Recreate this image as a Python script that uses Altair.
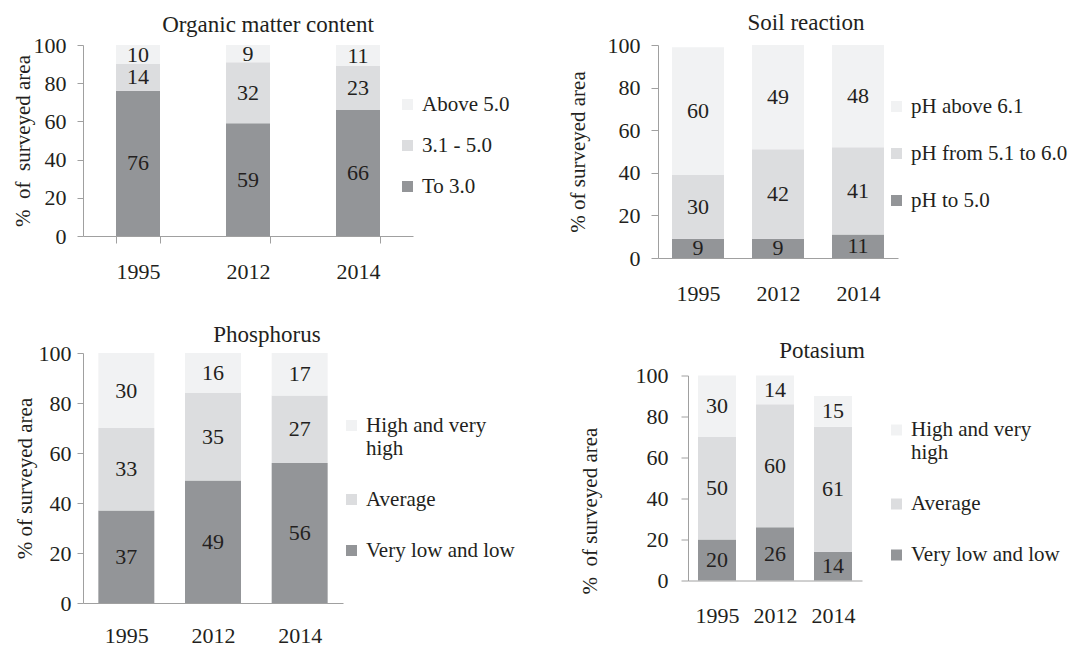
import altair as alt
import pandas as pd

years = ["1995", "2012", "2014"]

organic_cats = ["To 3.0", "3.1 - 5.0", "Above 5.0"]
organic_low = [76, 59, 66]
organic_mid = [14, 32, 23]
organic_high = [10, 9, 11]

soil_cats = ["pH to 5.0", "pH from 5.1 to 6.0", "pH above 6.1"]
soil_low = [9, 9, 11]
soil_mid = [30, 42, 41]
soil_high = [60, 49, 48]

nutrient_cats = ["Very low and low", "Average", "High and very high"]
phos_low = [37, 49, 56]
phos_mid = [33, 35, 27]
phos_high = [30, 16, 17]

potas_low = [20, 26, 14]
potas_mid = [50, 60, 61]
potas_high = [30, 14, 15]

y_ticks = [0, 20, 40, 60, 80, 100]
shades = ["#939598", "#dcdddf", "#f1f2f3"]

FONT = "Liberation Serif"
TXT = "#231f20"
AX = "#a0a0a0"
NB = "\u00a0"


def frame(cats, low, mid, high):
    rows = []
    for i, (cat, vals) in enumerate(zip(cats, [low, mid, high])):
        for yr, v in zip(years, vals):
            rows.append({"year": yr, "cat": cat, "order": i, "value": v})
    return pd.DataFrame(rows)


def panel(df, cats, title, ytitle, w, h, pad, title_dx, title_offset,
          y_lp, y_ts, y_tp, y_title_y, x_lp, x_ticks, lx, ly, lrow):
    base = alt.Chart(df).transform_stack(
        stack="value", groupby=["year"], as_=["v0", "v1"],
        sort=[alt.SortField("order", order="ascending")]
    ).transform_calculate(mid="(datum.v0 + datum.v1) / 2")

    xscale = alt.Scale(paddingInner=pad, paddingOuter=pad / 2)
    yscale = alt.Scale(domain=[0, 100], nice=False)
    xaxis = alt.Axis(labelAngle=0, labelFont=FONT, labelFontSize=22,
                     labelColor=TXT, labelPadding=x_lp,
                     domainColor=AX, domainWidth=1,
                     ticks=x_ticks, tickBand="extent",
                     tickColor=AX, tickSize=7 if x_ticks else 0,
                     grid=False)
    yaxis_kwargs = dict(values=y_ticks, grid=False, labelFont=FONT,
                        labelFontSize=22, labelColor=TXT, labelPadding=y_lp,
                        labelOverlap=False,
                        domainColor=AX, tickColor=AX, tickSize=y_ts,
                        titleFont=FONT, titleFontSize=21,
                        titleFontWeight="normal", titleColor=TXT,
                        titlePadding=y_tp)
    if y_title_y is not None:
        yaxis_kwargs["titleY"] = y_title_y
    yaxis = alt.Axis(**yaxis_kwargs)

    legend = alt.Legend(
        orient="none", legendX=lx, legendY=ly, title=None, padding=0,
        symbolType="square", symbolSize=121, symbolStrokeWidth=0,
        labelFont=FONT, labelFontSize=21, labelColor=TXT, labelOffset=4,
        rowPadding=lrow, labelLimit=400,
        labelExpr="datum.label == 'High and very high' ? ['High and very', 'high'] : datum.label",
    )
    bars = base.mark_bar().encode(
        x=alt.X("year:N", sort=years, title=None, scale=xscale, axis=xaxis),
        y=alt.Y("v0:Q", title=ytitle, scale=yscale, axis=yaxis),
        y2="v1:Q",
        color=alt.Color("cat:N",
                        scale=alt.Scale(domain=list(reversed(cats)),
                                        range=list(reversed(shades))),
                        legend=legend),
    )
    labels = base.mark_text(font=FONT, fontSize=22, color=TXT).encode(
        x=alt.X("year:N", sort=years, title=None, scale=xscale, axis=xaxis),
        y=alt.Y("mid:Q", title=ytitle, scale=yscale, axis=yaxis),
        text="value:Q",
    )
    return alt.layer(bars, labels).properties(
        width=w, height=h,
        title=alt.TitleParams(title, font=FONT, fontSize=23,
                              fontWeight="normal", color=TXT,
                              anchor="middle", frame="group",
                              dx=title_dx, offset=title_offset),
    )


p1 = panel(frame(organic_cats, organic_low, organic_mid, organic_high),
           organic_cats, "Organic matter content", "%" + NB + " of " + NB + "surveyed area",
           330, 191, 0.6, 20, -3, 11, 6, 0, None, 18, True, 314, 49, 19)
p2 = panel(frame(soil_cats, soil_low, soil_mid, soil_high),
           soil_cats, "Soil reaction", "% of surveyed area",
           240, 213, 0.35, 28, -1, 11, 7, 19, None, 25, False, 228, 51, 25)
p3 = panel(frame(nutrient_cats, phos_low, phos_mid, phos_high),
           nutrient_cats, "Phosphorus", "% of surveyed area",
           260, 250, 0.354, 54, -5, 6, 6, 3, None, 22, False, 258, 62, 29)
p4 = panel(frame(nutrient_cats, potas_low, potas_mid, potas_high),
           nutrient_cats, "Potasium", "%" + NB + " of surveyed area",
           174, 205, 0.345, 47, 1.5, 13, 7, 35, 135, 25, False, 198, 44, 29)

row0 = alt.hconcat(p1, p2, spacing=245, bounds="flush").resolve_scale(
    x="independent", y="independent", color="independent")
row1 = alt.hconcat(p3, p4, spacing=345, bounds="flush", center=True).resolve_scale(
    x="independent", y="independent", color="independent")

chart = alt.vconcat(row0, row1, spacing=20).resolve_scale(
    x="independent", y="independent", color="independent"
).properties(
    padding={"left": 4, "top": 4, "right": 0, "bottom": 0}
).configure(
    view=alt.ViewConfig(stroke=None),
    axis=alt.AxisConfig(labelFont=FONT, titleFont=FONT,
                        titleFontWeight="normal", titleFontSize=21,
                        titleColor=TXT, labelColor=TXT),
    legend=alt.LegendConfig(labelFont=FONT),
    title=alt.TitleConfig(font=FONT),
    style={"guide-title": {"font": FONT, "fontWeight": "normal"},
           "guide-label": {"font": FONT}},
)

chart.save("out.html", embed_options={"renderer": "svg", "actions": False})
